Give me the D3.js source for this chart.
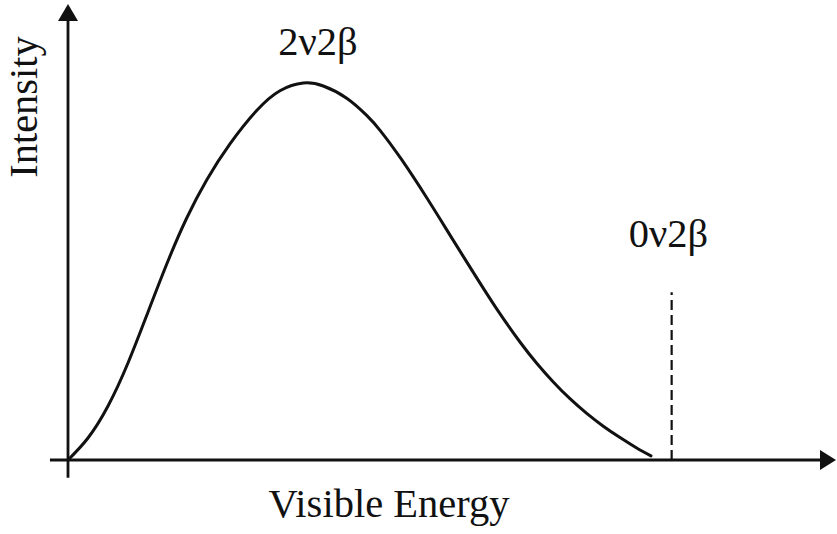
<!DOCTYPE html>
<html>
<head>
<meta charset="utf-8">
<script src="https://cdn.jsdelivr.net/npm/d3@7/dist/d3.min.js"></script>
<style>
  html, body { margin: 0; padding: 0; background: #fff; }
  svg { display: block; }
  text { font-family: "Liberation Serif", "Times New Roman", serif; fill: #111; }
</style>
</head>
<body>
<svg id="chart" width="837" height="534"></svg>
<script>
// Two-neutrino double beta decay spectrum (arbitrary units)
const energy    = [0, 2.60, 5.21, 7.81, 10.42, 13.02, 15.46, 18.06, 21.09, 24.57, 27.60, 30.64,
                   33.24, 36.29, 38.89, 40.63, 43.36, 46.71, 49.74, 52.77, 55.82, 58.85, 61.03,
                   63.19, 65.36, 67.54, 69.70, 71.88, 74.05, 75.91];
const intensity = [0, 4.82, 11.84, 21.27, 32.46, 43.64, 53.07, 61.40, 69.32, 76.64, 80.99, 82.68,
                   82.02, 79.34, 75.57, 72.30, 66.07, 57.50, 49.32, 41.14, 33.14, 25.88, 21.23,
                   17.11, 13.44, 10.22, 7.41, 4.91, 2.63, 0.90];

// Neutrinoless peak position and marker height
const peakEnergy = [78.6];
const peakHeight = [36.8];

const labels = ["2ν2β", "0ν2β"];
const axisTitles = ["Visible Energy", "Intensity"];

const svg = d3.select("#chart");

const x = d3.scaleLinear().domain([0, 100]).range([68, 836]);
const y = d3.scaleLinear().domain([0, 100]).range([460, 4]);

const ink = "#111";
const fontSize = 40.5;

// Axis lines with arrowheads
svg.append("line")
  .attr("x1", x(-2.35)).attr("x2", x(100) - 14)
  .attr("y1", y(0)).attr("y2", y(0))
  .attr("stroke", ink).attr("stroke-width", 2.8);
svg.append("path")
  .attr("d", `M${x(100)},${y(0)} L${x(100) - 16},${y(0) - 10} L${x(100) - 16},${y(0) + 10} Z`)
  .attr("fill", ink);

svg.append("line")
  .attr("x1", x(0)).attr("x2", x(0))
  .attr("y1", y(-3.9)).attr("y2", y(100) + 14)
  .attr("stroke", ink).attr("stroke-width", 2.8);
svg.append("path")
  .attr("d", `M${x(0)},${y(100)} L${x(0) - 10},${y(100) + 17} L${x(0) + 10},${y(100) + 17} Z`)
  .attr("fill", ink);

// Continuous 2ν2β spectrum
const pts = energy.map((e, i) => [e, intensity[i]]);
const line = d3.line()
  .x(d => x(d[0]))
  .y(d => y(d[1]))
  .curve(d3.curveNatural);
svg.append("path")
  .datum(pts)
  .attr("d", line)
  .attr("fill", "none")
  .attr("stroke", ink)
  .attr("stroke-width", 3)
  .attr("stroke-linecap", "round")
  .attr("stroke-linejoin", "round");

// 0ν2β line at the endpoint
svg.selectAll("line.peak")
  .data(peakEnergy)
  .enter().append("line")
  .attr("class", "peak")
  .attr("x1", d => x(d)).attr("x2", d => x(d))
  .attr("y1", y(0)).attr("y2", (d, i) => y(peakHeight[i]))
  .attr("stroke", ink)
  .attr("stroke-width", 2.2)
  .attr("stroke-dasharray", "10,5");

// Labels
svg.append("text")
  .attr("x", 318).attr("y", 55)
  .attr("text-anchor", "middle")
  .attr("font-size", fontSize)
  .text(labels[0]);

svg.append("text")
  .attr("x", 668.5).attr("y", 247)
  .attr("text-anchor", "middle")
  .attr("font-size", fontSize)
  .text(labels[1]);

svg.append("text")
  .attr("x", 389).attr("y", 517)
  .attr("text-anchor", "middle")
  .attr("font-size", fontSize)
  .text(axisTitles[0]);

svg.append("text")
  .attr("transform", "translate(37,107) rotate(-90)")
  .attr("text-anchor", "middle")
  .attr("font-size", fontSize)
  .text(axisTitles[1]);
</script>
</body>
</html>
